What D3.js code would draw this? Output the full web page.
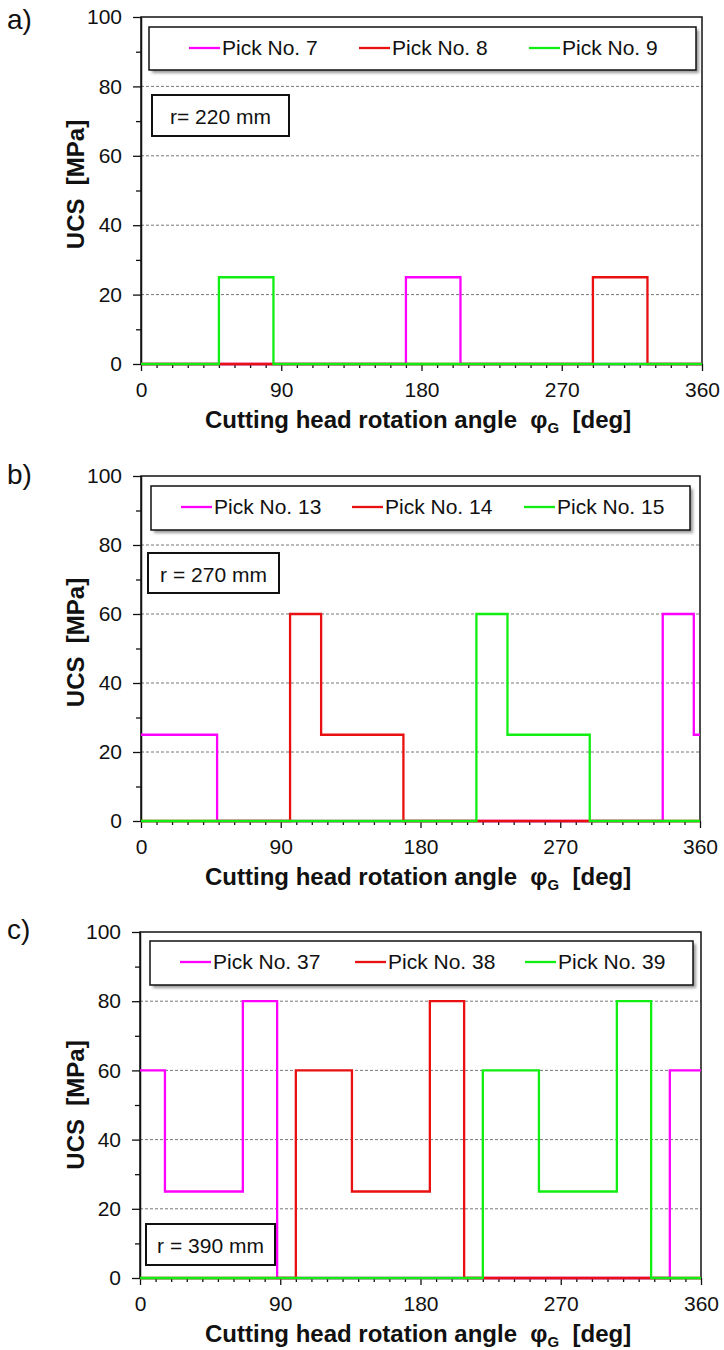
<!DOCTYPE html>
<html><head><meta charset="utf-8">
<script src="https://cdn.jsdelivr.net/npm/d3@7"></script>
<style>
html,body{margin:0;padding:0;background:#fff;}
text{font-family:"Liberation Sans",Arial,sans-serif;}
</style></head>
<body><div id="chart"></div>
<script>
// ---------- data ----------
const xTicks = [0, 90, 180, 270, 360];
const yTicks = [0, 20, 40, 60, 80, 100];
const panelLetters = ["a)", "b)", "c)"];
const radiusLabels = ["r= 220 mm", "r = 270 mm", "r = 390 mm"];
const seriesColors = ["#ff00ff", "#e81010", "#11ee11"];

const namesA = ["Pick No. 7", "Pick No. 8", "Pick No. 9"];
const namesB = ["Pick No. 13", "Pick No. 14", "Pick No. 15"];
const namesC = ["Pick No. 37", "Pick No. 38", "Pick No. 39"];

// step breakpoints: angle [deg] where the UCS level [MPa] starts
const pick7Angles = [0, 170, 205, 360];       const pick7Values = [0, 25, 0, 0];
const pick8Angles = [0, 290, 325, 360];       const pick8Values = [0, 25, 0, 0];
const pick9Angles = [0, 50, 85, 360];         const pick9Values = [0, 25, 0, 0];

const pick13Angles = [0, 49, 336, 356, 360];  const pick13Values = [25, 0, 60, 25, 25];
const pick14Angles = [0, 96, 116, 169, 360];  const pick14Values = [0, 60, 25, 0, 0];
const pick15Angles = [0, 216, 236, 289, 360]; const pick15Values = [0, 60, 25, 0, 0];

const pick37Angles = [0, 16, 66, 88, 340, 360];    const pick37Values = [60, 25, 80, 0, 60, 60];
const pick38Angles = [0, 100, 136, 186, 208, 360]; const pick38Values = [0, 60, 25, 80, 0, 0];
const pick39Angles = [0, 220, 256, 306, 328, 360]; const pick39Values = [0, 60, 25, 80, 0, 0];

// ---------- layout ----------
const W = 724, H = 1350;
const panels = [
  { top: 17, bottom: 364, left: 141, right: 702, letterY: 29, names: namesA,
    series: [[pick7Angles, pick7Values], [pick8Angles, pick8Values], [pick9Angles, pick9Values]],
    legend: { x1: 149, y1: 27, x2: 696, y2: 70, items: [189, 359, 529] },
    rbox: { x1: 152, y1: 95, x2: 289, y2: 136 } },
  { top: 476, bottom: 821, left: 141, right: 700, letterY: 484, names: namesB,
    series: [[pick13Angles, pick13Values], [pick14Angles, pick14Values], [pick15Angles, pick15Values]],
    legend: { x1: 151, y1: 486, x2: 690, y2: 530, items: [181, 352, 524] },
    rbox: { x1: 148, y1: 553, x2: 279, y2: 593 } },
  { top: 932, bottom: 1278, left: 140, right: 701, letterY: 939, names: namesC,
    series: [[pick37Angles, pick37Values], [pick38Angles, pick38Values], [pick39Angles, pick39Values]],
    legend: { x1: 150, y1: 941, x2: 693, y2: 985, items: [180, 355, 525] },
    rbox: { x1: 146, y1: 1224, x2: 275, y2: 1265 } }
];

const svg = d3.select("#chart").append("svg").attr("width", W).attr("height", H);
const defs = svg.append("defs");
defs.append("filter").attr("id", "blur").attr("x", "-5%").attr("y", "-20%").attr("width", "110%").attr("height", "140%")
  .append("feGaussianBlur").attr("stdDeviation", 1.5);

panels.forEach((p, i) => {
  const g = svg.append("g");
  const x = d3.scaleLinear().domain([0, 360]).range([p.left, p.right]);
  const y = d3.scaleLinear().domain([0, 100]).range([p.bottom, p.top]);

  // panel letter
  g.append("text").attr("x", 7).attr("y", p.letterY).attr("font-size", 28).attr("fill", "#111").text(panelLetters[i]);

  // gridlines
  g.selectAll(".grid").data(yTicks.filter(v => v > 0 && v < 100)).join("line")
    .attr("x1", p.left).attr("x2", p.right)
    .attr("y1", d => y(d)).attr("y2", d => y(d))
    .attr("stroke", "#777").attr("stroke-width", 1).attr("stroke-dasharray", "3,2");

  // frame
  g.append("rect").attr("x", p.left).attr("y", p.top).attr("width", p.right - p.left).attr("height", p.bottom - p.top)
    .attr("fill", "none").attr("stroke", "#111").attr("stroke-width", 1.5);

  // minor ticks
  const yMinor = d3.range(10, 100, 20);
  const xMinor = d3.range(0, 361, 10).filter(v => v % 90 !== 0);
  g.append("g").attr("transform", `translate(${p.left},0)`)
    .call(d3.axisLeft(y).tickValues(yMinor).tickSize(5).tickFormat(""))
    .call(a => a.select(".domain").remove())
    .call(a => a.selectAll("line").attr("stroke", "#111").attr("stroke-width", 1.3));
  g.append("g").attr("transform", `translate(0,${p.bottom})`)
    .call(d3.axisBottom(x).tickValues(xMinor).tickSize(4).tickFormat(""))
    .call(a => a.select(".domain").remove())
    .call(a => a.selectAll("line").attr("stroke", "#111").attr("stroke-width", 1.3));

  // major axes
  g.append("g").attr("transform", `translate(${p.left},0)`)
    .call(d3.axisLeft(y).tickValues(yTicks).tickSize(8).tickSizeOuter(0).tickPadding(11))
    .call(a => a.select(".domain").attr("stroke", "#111").attr("stroke-width", 1.5))
    .call(a => a.selectAll("line").attr("stroke", "#111").attr("stroke-width", 1.3))
    .call(a => a.selectAll("text").attr("font-size", 21).attr("fill", "#111").attr("font-family", "Liberation Sans, Arial, sans-serif"));
  g.append("g").attr("transform", `translate(0,${p.bottom})`)
    .call(d3.axisBottom(x).tickValues(xTicks).tickSize(7).tickSizeOuter(0).tickPadding(11))
    .call(a => a.select(".domain").attr("stroke", "#111").attr("stroke-width", 1.5))
    .call(a => a.selectAll("line").attr("stroke", "#111").attr("stroke-width", 1.3))
    .call(a => a.selectAll("text").attr("font-size", 21).attr("fill", "#111").attr("font-family", "Liberation Sans, Arial, sans-serif"));

  // series
  const line = d3.line().x(d => x(d[0])).y(d => y(d[1])).curve(d3.curveStepAfter);
  p.series.forEach((s, k) => {
    const pts = s[0].map((a, j) => [a, s[1][j]]);
    g.append("path").datum(pts).attr("d", line).attr("fill", "none")
      .attr("stroke", seriesColors[k]).attr("stroke-width", 2.3);
  });

  // axis titles
  const xt = g.append("text").attr("x", 205).attr("y", p.bottom + 64).attr("font-size", 24)
    .attr("font-weight", "bold").attr("fill", "#111").style("white-space", "pre");
  xt.append("tspan").text("Cutting head rotation angle  ");
  xt.append("tspan").text("φ");
  xt.append("tspan").attr("font-size", 15).attr("dy", 5).text("G");
  xt.append("tspan").attr("dy", -5).text("  [deg]");

  const cy = (p.top + p.bottom) / 2 - (i < 2 ? 6 : 0);
  g.append("text").attr("transform", `translate(84,${cy}) rotate(-90)`).attr("text-anchor", "middle")
    .attr("font-size", 24).attr("font-weight", "bold").attr("fill", "#111").style("white-space", "pre")
    .text("UCS  [MPa]");

  // legend
  const L = p.legend;
  g.append("rect").attr("x", L.x1 + 3).attr("y", L.y1 + 3).attr("width", L.x2 - L.x1).attr("height", L.y2 - L.y1)
    .attr("fill", "#999").attr("filter", "url(#blur)");
  g.append("rect").attr("x", L.x1).attr("y", L.y1).attr("width", L.x2 - L.x1).attr("height", L.y2 - L.y1)
    .attr("fill", "#fff").attr("stroke", "#111").attr("stroke-width", 1.5);
  p.names.forEach((n, k) => {
    const lx = L.items[k];
    g.append("line").attr("x1", lx).attr("x2", lx + 31).attr("y1", L.y1 + 21).attr("y2", L.y1 + 21)
      .attr("stroke", seriesColors[k]).attr("stroke-width", 2.3);
    g.append("text").attr("x", lx + 33).attr("y", L.y1 + 28).attr("font-size", 21).attr("fill", "#111").text(n);
  });

  // radius box
  const R = p.rbox;
  g.append("rect").attr("x", R.x1).attr("y", R.y1).attr("width", R.x2 - R.x1).attr("height", R.y2 - R.y1)
    .attr("fill", "#fff").attr("stroke", "#111").attr("stroke-width", 2);
  g.append("text").attr("x", (R.x1 + R.x2) / 2).attr("y", R.y1 + 29).attr("text-anchor", "middle")
    .attr("font-size", 21).attr("fill", "#111").style("white-space", "pre").text(radiusLabels[i]);
});
</script>
</body></html>
